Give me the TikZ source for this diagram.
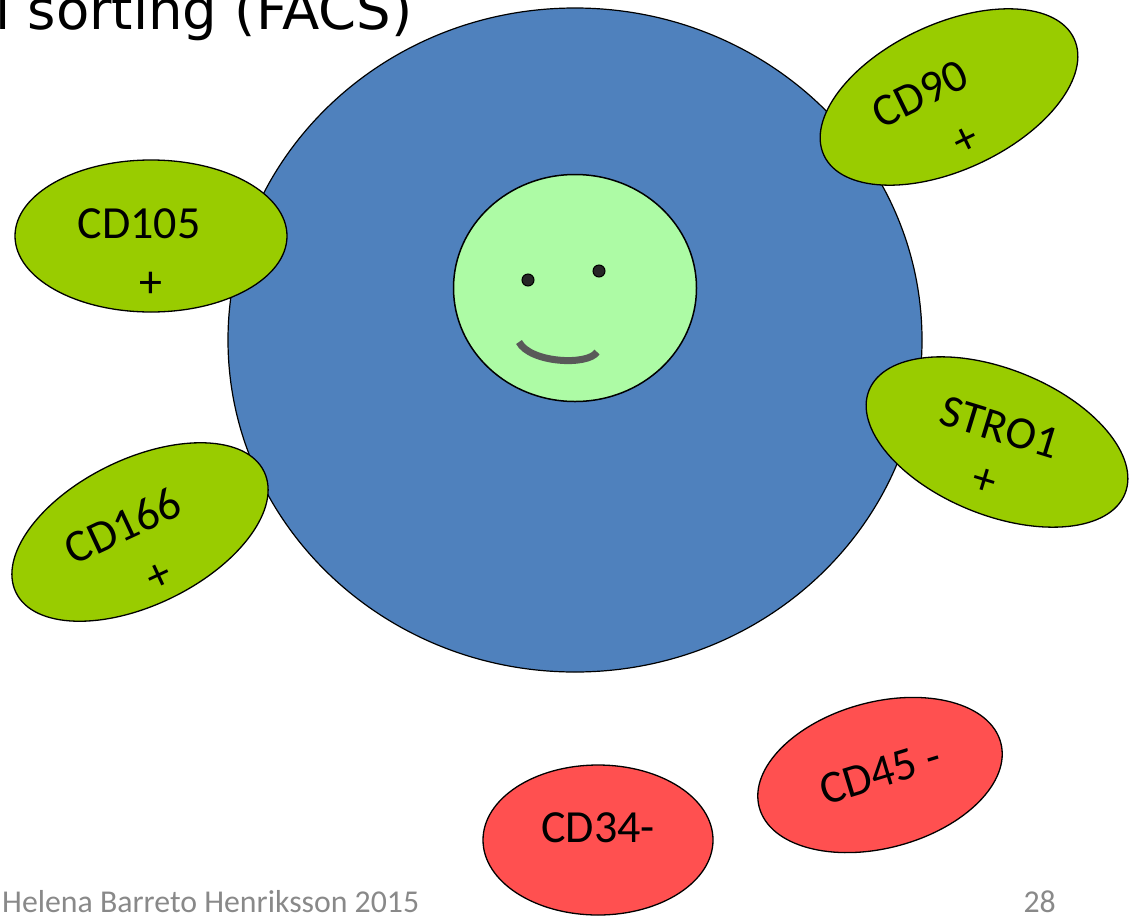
\documentclass[tikz,border=0pt]{standalone}
\usepackage{fontspec}
\setmainfont{Carlito}
\newfontfamily\titlefont{DejaVu Sans}
\usetikzlibrary{shapes.geometric}
\definecolor{cellblue}{HTML}{4F81BD}
\definecolor{nucleus}{HTML}{ADFBA5}
\definecolor{markergreen}{HTML}{99CC00}
\definecolor{markerred}{HTML}{FF5050}
\definecolor{footgray}{HTML}{898989}
\definecolor{eyedark}{HTML}{262626}
\definecolor{mouthgray}{HTML}{595959}
\begin{document}
\begin{tikzpicture}[x=1pt,y=-1pt,
  markerbox/.style={ellipse, draw=black, line width=1.3pt, inner sep=0pt},
  posmark/.style={markerbox, fill=markergreen},
  negmark/.style={markerbox, fill=markerred},
  marktext/.style={inner sep=0pt, font=\fontsize{46}{55}\selectfont},
  signtext/.style={inner sep=0pt, font=\fontsize{46}{55}\selectfont},
  foottext/.style={inner sep=0pt, text=footgray, font=\fontsize{31.8}{38}\selectfont}]
\useasboundingbox (0,0) rectangle (1134,916);

% title line (runs in from the left edge)
\node[anchor=base west, inner sep=0pt, font=\titlefont\fontsize{54.5}{65}\selectfont] (title) at (-5,29) {l sorting (FACS)};

% the cell body and its nucleus
\node[ellipse, draw=black, line width=1.2pt, fill=cellblue, minimum width=694pt, minimum height=664pt, inner sep=0pt] (cell) at (575,340) {};
\node[ellipse, draw=black, line width=1.5pt, fill=nucleus, minimum width=243pt, minimum height=227pt, inner sep=0pt] (nuc) at (575,288) {};

% face
\node[circle, draw=black, line width=1pt, fill=eyedark, minimum size=12pt, inner sep=0pt] (eyeL) at (528,280) {};
\node[circle, draw=black, line width=1pt, fill=eyedark, minimum size=12pt, inner sep=0pt] (eyeR) at (599,271) {};
\coordinate (mouthL) at (519,342);
\coordinate (mouthR) at (597,352);
\draw[mouthgray, line width=7pt] (mouthL) .. controls (530,363) and (588,366) .. (mouthR);

% positive surface markers
\node[posmark, minimum width=272pt, minimum height=152pt] (cd105) at (151,236) {};
\node[marktext] (cd105t) at (139,224) {CD105};
\node[signtext] (cd105s) at (151,285) {+};

\node[posmark, minimum width=276pt, minimum height=146pt, rotate=25] (cd90) at (949,97) {};
\node[marktext, rotate=26] (cd90t) at (920,94) {CD90};
\node[signtext, rotate=26] (cd90s) at (966,141) {+};

\node[posmark, minimum width=276pt, minimum height=146pt, rotate=26] (cd166) at (140,532) {};
\node[marktext, rotate=25] (cd166t) at (123,526) {CD166};
\node[signtext, rotate=25] (cd166s) at (160,577) {+};

\node[posmark, minimum width=276pt, minimum height=146pt, rotate=-22] (stro) at (997,442) {};
\node[marktext, rotate=-17] (strot) at (1000,427) {STRO1};
\node[signtext, rotate=-17] (stros) at (984,482) {+};

% negative markers
\node[negmark, minimum width=230pt, minimum height=150pt] (cd34) at (598,840) {};
\node[marktext] (cd34t) at (598,828) {CD34-};
\node[negmark, minimum width=250pt, minimum height=146pt, rotate=15] (cd45) at (880,775) {};
\node[marktext, rotate=17] (cd45t) at (880,773) {CD45 -};

% footer
\node[foottext, anchor=base west] (author) at (2,912) {Helena Barreto Henriksson 2015};
\node[foottext, anchor=base east] (page) at (1056,912) {28};
\end{tikzpicture}
\end{document}
